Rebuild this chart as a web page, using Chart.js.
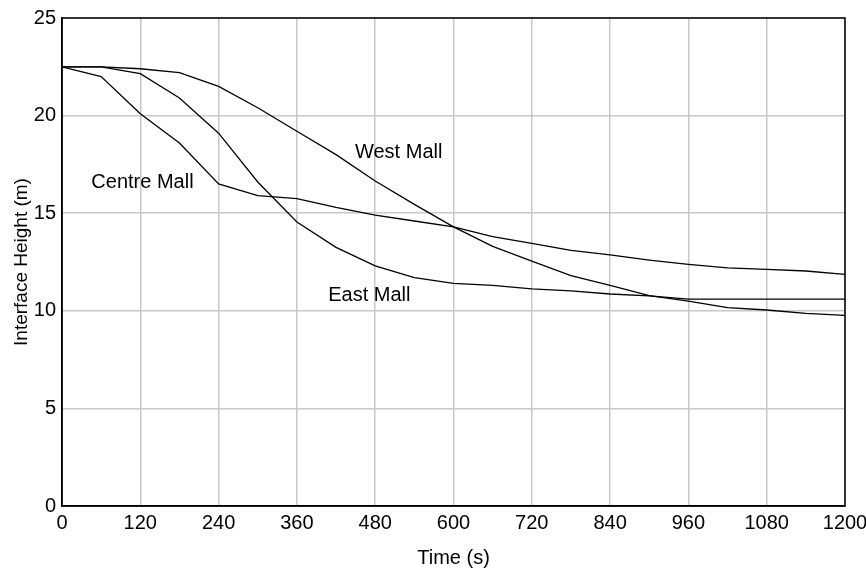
<!DOCTYPE html>
<html>
<head>
<meta charset="utf-8">
<script src="https://cdn.jsdelivr.net/npm/chart.js@4/dist/chart.umd.min.js"></script>
<style>
html,body{margin:0;padding:0;background:#fff;}
#wrap{width:866px;height:570px;}
</style>
</head>
<body>
<div id="wrap"><canvas id="c" width="866" height="570"></canvas></div>
<script>
const times = [0,60,120,180,240,300,360,420,480,540,600,660,720,780,840,900,960,1020,1080,1140,1200];
const centreMall = [22.5,22.0,20.1,18.6,16.5,15.9,15.75,15.3,14.9,14.6,14.3,13.8,13.45,13.1,12.86,12.6,12.38,12.2,12.12,12.04,11.87];
const eastMall = [22.5,22.5,22.15,20.9,19.1,16.6,14.55,13.25,12.3,11.7,11.4,11.3,11.12,11.02,10.86,10.76,10.6,10.6,10.6,10.6,10.6];
const westMall = [22.5,22.5,22.4,22.2,21.5,20.4,19.2,18.0,16.65,15.45,14.3,13.3,12.55,11.8,11.3,10.78,10.5,10.16,10.04,9.87,9.77];
const seriesNames = ["Centre Mall","East Mall","West Mall"];
const labelAnchorsT = [45, 408, 449];
const labelAnchorsV = [16.55, 10.8, 18.1];
const xTitle = "Time (s)";
const yTitle = "Interface Height (m)";

const FONT = "'Liberation Sans', Arial, sans-serif";
const FS = 20;
function toXY(vals){ return times.map((t,i)=>({x:t,y:vals[i]})); }
const ds = (name, vals) => ({label:name, data:toXY(vals), borderColor:'#000', borderWidth:1.3, pointRadius:0, tension:0, fill:false});

const annotPlugin = {
  id:'annot',
  afterDatasetsDraw(chart){
    const c = chart.ctx, xs = chart.scales.x, ys = chart.scales.y, a = chart.chartArea;
    c.save();
    c.strokeStyle = '#000'; c.lineWidth = 1.5;
    c.strokeRect(a.left, a.top, a.right - a.left, a.bottom - a.top);
    c.fillStyle = '#000';
    c.font = FS + 'px ' + FONT;
    c.textAlign = 'left'; c.textBaseline = 'middle';
    seriesNames.forEach((n,i)=>{
      c.fillText(n, xs.getPixelForValue(labelAnchorsT[i]), ys.getPixelForValue(labelAnchorsV[i]));
    });
    c.restore();
  }
};

new Chart(document.getElementById('c'), {
  type:'line',
  data:{ datasets:[ds(seriesNames[0],centreMall), ds(seriesNames[1],eastMall), ds(seriesNames[2],westMall)] },
  options:{
    responsive:false, animation:false,
    layout:{padding:{left:0,right:0,top:18,bottom:0}},
    plugins:{legend:{display:false}, tooltip:{enabled:false}},
    scales:{
      x:{type:'linear', min:0, max:1200,
        ticks:{stepSize:120, color:'#000', font:{family:FONT,size:FS}, padding:5, maxRotation:0, autoSkip:false,
          callback:(v)=>String(v)},
        grid:{color:'#c8c8c8', lineWidth:1.5, drawTicks:false},
        border:{color:'#000', width:1.5},
        title:{display:true, text:xTitle, color:'#000', font:{family:FONT,size:FS}, padding:{top:8,bottom:0}},
        afterFit(s){ s.height = 64; s.paddingRight = 21; s.paddingLeft = 0; }
      },
      y:{min:0, max:25,
        ticks:{stepSize:5, color:'#000', font:{family:FONT,size:FS}, padding:6, callback:(v)=>String(v)},
        grid:{color:'#c8c8c8', lineWidth:1.5, drawTicks:false},
        border:{color:'#000', width:1.5},
        title:{display:true, text:yTitle, color:'#000', font:{family:FONT,size:FS-1}, padding:{top:10,bottom:0}},
        afterFit(s){ s.width = 62; }
      }
    }
  },
  plugins:[annotPlugin]
});
</script>
</body>
</html>
